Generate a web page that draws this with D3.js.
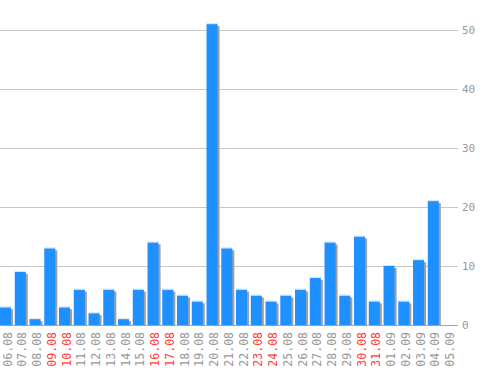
<!DOCTYPE html>
<html>
<head>
<meta charset="utf-8">
<script src="https://cdn.jsdelivr.net/npm/d3@7"></script>
<style>
  body { margin: 0; background: #fff; }
  text { font-family: "DejaVu Sans Mono", monospace; }
</style>
</head>
<body>
<svg id="chart" width="498" height="370"></svg>
<script>
const days = ['06.08', '07.08', '08.08', '09.08', '10.08', '11.08', '12.08', '13.08',
  '14.08', '15.08', '16.08', '17.08', '18.08', '19.08', '20.08', '21.08', '22.08',
  '23.08', '24.08', '25.08', '26.08', '27.08', '28.08', '29.08', '30.08', '31.08',
  '01.09', '02.09', '03.09', '04.09', '05.09'];
const counts = [3, 9, 1, 13, 3, 6, 2, 6, 1, 6, 14, 6, 5, 4, 51, 13, 6, 5, 4, 5, 6, 8,
  14, 5, 15, 4, 10, 4, 11, 21, 0];
const weekend = ['09.08', '10.08', '16.08', '17.08', '23.08', '24.08', '30.08', '31.08'];
const yTicks = [0, 10, 20, 30, 40, 50];

const svg = d3.select('#chart');
const plotRight = 458;
const y0 = 325;

const x = d3.scaleBand()
  .domain(days)
  .range([0, 453.6])
  .paddingInner(0.25)
  .paddingOuter(0);

const y = d3.scaleLinear()
  .domain([0, 50])
  .range([y0, 30]);

// gridlines + right labels
const grid = svg.append('g');
grid.selectAll('line')
  .data(yTicks.filter(d => d > 0))
  .enter()
  .append('line')
  .attr('x1', 0)
  .attr('x2', plotRight)
  .attr('y1', d => Math.round(y(d)) + 0.5)
  .attr('y2', d => Math.round(y(d)) + 0.5)
  .attr('stroke', '#c8c8c8');

grid.append('line')
  .attr('x1', 0)
  .attr('x2', plotRight)
  .attr('y1', y0 + 0.5)
  .attr('y2', y0 + 0.5)
  .attr('stroke', '#a8a8a8');

grid.selectAll('text')
  .data(yTicks)
  .enter()
  .append('text')
  .attr('x', 462)
  .attr('y', d => y(d) + 4)
  .attr('font-size', '11px')
  .attr('fill', '#999')
  .text(d => d);

// bars with shadow + top highlight
const bw = x.bandwidth();
const bar = svg.append('g')
  .selectAll('g')
  .data(counts)
  .enter()
  .append('g')
  .attr('transform', (d, i) => `translate(${x(days[i])},0)`);

bar.append('rect')
  .attr('x', 2)
  .attr('y', d => y(d) + 2)
  .attr('width', bw)
  .attr('height', d => Math.max(0, y0 - y(d) - 1))
  .attr('fill', '#a0a0a0');

bar.append('rect')
  .attr('y', d => y(d))
  .attr('width', bw)
  .attr('height', d => y0 - y(d))
  .attr('fill', '#1e90ff');

bar.filter(d => d > 0)
  .append('rect')
  .attr('y', d => y(d) - 1)
  .attr('width', bw)
  .attr('height', 1)
  .attr('fill', '#d8e4ee');

// x labels, rotated
svg.append('g')
  .selectAll('text')
  .data(days)
  .enter()
  .append('text')
  .attr('transform', d => `translate(${x(d) + bw / 2 + 6},${y0 + 7}) rotate(-90)`)
  .attr('text-anchor', 'end')
  .attr('font-size', '11.5px')
  .attr('fill', d => weekend.includes(d) ? '#ff4040' : '#999')
  .text(d => d);
</script>
</body>
</html>
